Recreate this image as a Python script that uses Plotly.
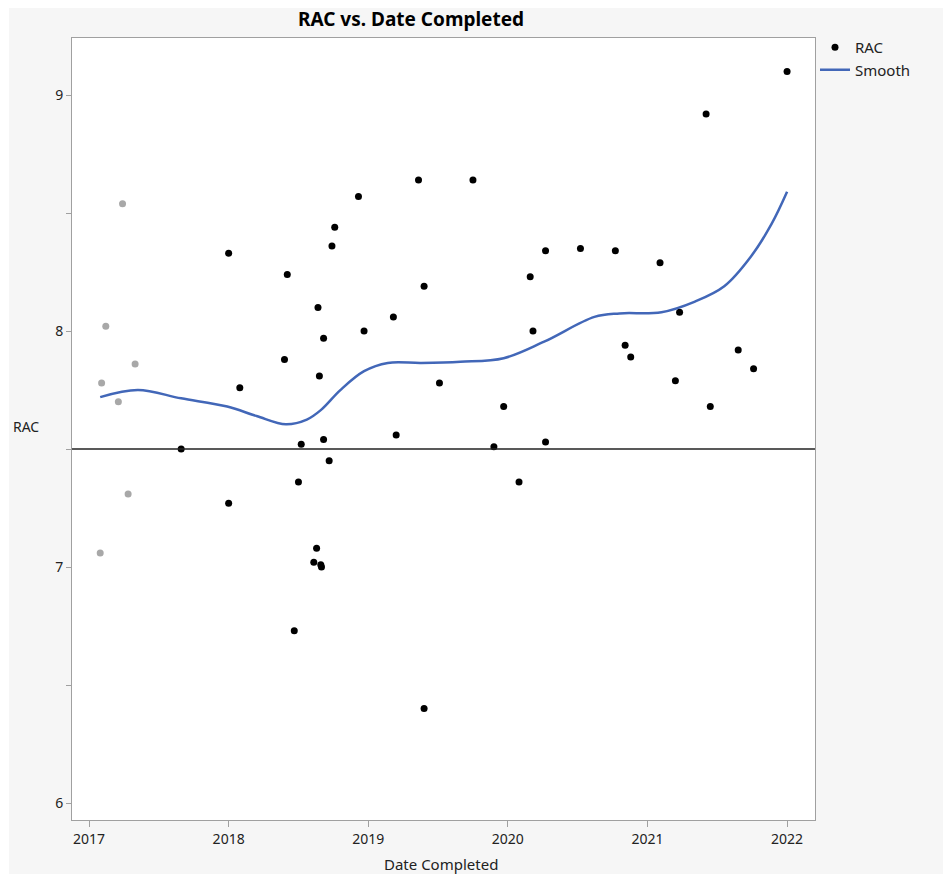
import plotly.graph_objects as go

# RAC by completion date (decimal years)
date_completed = [2017.66, 2018.00, 2018.08, 2018.00, 2018.42, 2018.40, 2018.52, 2018.50,
                  2018.47, 2018.64, 2018.68, 2018.65, 2018.68, 2018.72, 2018.63, 2018.61,
                  2018.66, 2018.665, 2018.76, 2018.74, 2018.93, 2018.97, 2019.18, 2019.20,
                  2019.36, 2019.40, 2019.40, 2019.51, 2019.75, 2019.90, 2019.97, 2020.08,
                  2020.16, 2020.18, 2020.27, 2020.27, 2020.52, 2020.77, 2020.84, 2020.88,
                  2021.09, 2021.23, 2021.20, 2021.45, 2021.42, 2021.65, 2021.76, 2022.00]
rac = [7.50, 8.33, 7.76, 7.27, 8.24, 7.88, 7.52, 7.36,
       6.73, 8.10, 7.97, 7.81, 7.54, 7.45, 7.08, 7.02,
       7.01, 7.00, 8.44, 8.36, 8.57, 8.00, 8.06, 7.56,
       8.64, 8.19, 6.40, 7.78, 8.64, 7.51, 7.68, 7.36,
       8.23, 8.00, 8.34, 7.53, 8.35, 8.34, 7.94, 7.89,
       8.29, 8.08, 7.79, 7.68, 8.92, 7.92, 7.84, 9.10]

# Excluded rows (shown greyed out)
excluded_date = [2017.24, 2017.12, 2017.33, 2017.09, 2017.21, 2017.28, 2017.08]
excluded_rac = [8.54, 8.02, 7.86, 7.78, 7.70, 7.31, 7.06]

# Smoother fit
smooth_date = [2017.08, 2017.35, 2017.66, 2017.99, 2018.20, 2018.41, 2018.56, 2018.66,
               2018.80, 2018.97, 2019.14, 2019.38, 2019.66, 2019.97, 2020.26, 2020.62,
               2020.80, 2021.10, 2021.34, 2021.55, 2021.74, 2021.89, 2022.00]
smooth_rac = [7.72, 7.75, 7.715, 7.68, 7.64, 7.605, 7.625, 7.665,
              7.75, 7.83, 7.865, 7.865, 7.87, 7.885, 7.955, 8.06,
              8.075, 8.08, 8.125, 8.19, 8.315, 8.455, 8.59]

ref_level = 7.5
year_ticks = [2017, 2018, 2019, 2020, 2021, 2022]

FONT = "Noto Sans"
W, H = 943, 880
L, R, T, B = 72, 815, 38, 820


def px_x(p):
    return (p - L) / (R - L)


def px_y(p):
    return (B - p) / (B - T)


fig = go.Figure()

fig.add_trace(go.Scatter(
    x=excluded_date, y=excluded_rac, mode="markers",
    marker=dict(color="#a8a8a8", size=7), showlegend=False, hoverinfo="x+y"))

fig.add_trace(go.Scatter(
    x=date_completed, y=rac, mode="markers", name="RAC",
    marker=dict(color="black", size=7)))

fig.add_trace(go.Scatter(
    x=smooth_date, y=smooth_rac, mode="lines", name="Smooth",
    line=dict(color="#4267b8", width=2.5, shape="spline", smoothing=1.0)))

shapes = [
    # grey panel
    dict(type="rect", xref="paper", yref="paper", layer="below",
         x0=px_x(9), x1=px_x(943), y0=px_y(874), y1=px_y(8),
         fillcolor="#f6f6f6", line=dict(width=0)),
    # white plot frame interior
    dict(type="rect", xref="paper", yref="paper", layer="below",
         x0=0, x1=1, y0=0, y1=1, fillcolor="white", line=dict(width=0)),
    # reference line
    dict(type="line", xref="paper", yref="y", x0=0, x1=1, y0=ref_level, y1=ref_level,
         line=dict(color="#222222", width=1.5)),
]

annotations = [
    dict(text="<b>RAC vs. Date Completed</b>", x=px_x(411), y=px_y(19),
         xref="paper", yref="paper", showarrow=False, xanchor="center", yanchor="middle",
         font=dict(family=FONT, size=19, color="black")),
    dict(text="RAC", x=px_x(26), y=px_y(427), xref="paper", yref="paper",
         showarrow=False, xanchor="center", yanchor="middle",
         font=dict(family=FONT, size=14, color="#222222")),
    dict(text="Date Completed", x=px_x(441), y=px_y(864), xref="paper", yref="paper",
         showarrow=False, xanchor="center", yanchor="middle",
         font=dict(family=FONT, size=15, color="#222222")),
]

fig.update_layout(
    width=W, height=H,
    margin=dict(l=L, r=W - R, t=T, b=H - B, pad=0),
    paper_bgcolor="white", plot_bgcolor="rgba(0,0,0,0)",
    font=dict(family=FONT, size=14, color="#222222"),
    shapes=shapes, annotations=annotations,
    legend=dict(x=1.0, y=px_y(31), xanchor="left", yanchor="top", bgcolor="rgba(0,0,0,0)",
                font=dict(family=FONT, size=15, color="#222222"),
                tracegroupgap=0, itemwidth=30),
    showlegend=True,
)

fig.update_xaxes(
    range=[2016.878, 2022.2], tickvals=year_ticks, ticktext=[str(v) for v in year_ticks],
    showgrid=False, zeroline=False, showline=True, mirror=True,
    linecolor="#a0a0a0", linewidth=1, ticks="outside", ticklen=6, tickcolor="#a0a0a0",
    tickfont=dict(family=FONT, size=14, color="#222222"))

fig.update_yaxes(
    range=[5.928, 9.242], tickvals=[6, 7, 8, 9], ticktext=["6", "7", "8", "9"],
    showgrid=False, zeroline=False, showline=True, mirror=True,
    linecolor="#a0a0a0", linewidth=1, ticks="outside", ticklen=5, tickcolor="#a0a0a0",
    tickfont=dict(family=FONT, size=14, color="#222222"),
    minor=dict(tickvals=[6.5, 7.5, 8.5], ticks="outside", ticklen=5, tickcolor="#a0a0a0"))

fig.write_html("out.html")
